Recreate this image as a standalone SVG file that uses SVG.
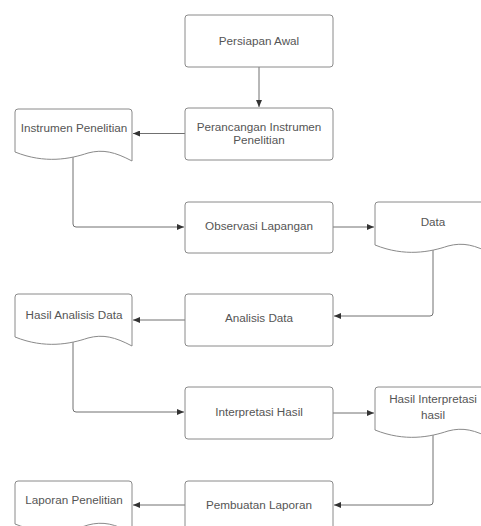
<svg xmlns="http://www.w3.org/2000/svg" width="481" height="526" viewBox="0 0 481 526">
<style>
.box{fill:#fff;stroke:#8a8a8a;stroke-width:1}
.doc{fill:#fff;stroke:#8a8a8a;stroke-width:1;stroke-linejoin:round}
.t{font-family:"Liberation Sans",Arial,sans-serif;font-size:11.7px;fill:#555;text-anchor:middle}
.c{fill:none;stroke:#707070;stroke-width:1}
</style>
<defs>
<marker id="ah" markerWidth="8" markerHeight="6" refX="7" refY="3" orient="auto" markerUnits="userSpaceOnUse">
<path d="M0,0 L7,3 L0,6 Z" fill="#333"/>
</marker>
<path id="docshape" d="M0,3 Q0,0 3,0 H114 Q117,0 117,3 V52 C100,43 88,40 73,44 C55,50 30,55 0,43 Z"/>
</defs>
<rect width="481" height="526" fill="#fff"/>

<g id="connectors">
<path class="c" d="M259,67 V107" marker-end="url(#ah)"/>
<path class="c" d="M185,133.5 H133" marker-end="url(#ah)"/>
<path class="c" d="M73,157 V224 Q73,227 76,227 H184" marker-end="url(#ah)"/>
<path class="c" d="M333,227 H374" marker-end="url(#ah)"/>
<path class="c" d="M433,250 V313 Q433,316 430,316 H334" marker-end="url(#ah)"/>
<path class="c" d="M185,320 H133" marker-end="url(#ah)"/>
<path class="c" d="M73,342 V409 Q73,412 76,412 H184" marker-end="url(#ah)"/>
<path class="c" d="M333,413 H374" marker-end="url(#ah)"/>
<path class="c" d="M433,435 V502 Q433,505 430,505 H334" marker-end="url(#ah)"/>
<path class="c" d="M185,505 H133" marker-end="url(#ah)"/>
</g>

<g id="persiapan-awal">
<rect class="box" x="185" y="15" width="148" height="52" rx="3"/>
<text class="t" x="259" y="45">Persiapan Awal</text>
</g>
<g id="perancangan-instrumen">
<rect class="box" x="185" y="108" width="148" height="52" rx="3"/>
<text class="t" x="259" y="131">Perancangan Instrumen</text>
<text class="t" x="259" y="144">Penelitian</text>
</g>
<g id="instrumen-penelitian">
<use href="#docshape" class="doc" transform="translate(15,109) scale(1,1)" style="fill:#fff;stroke:#8a8a8a"/>
<text class="t" x="74" y="132">Instrumen Penelitian</text>
</g>
<g id="observasi-lapangan">
<rect class="box" x="185" y="202" width="148" height="51" rx="3"/>
<text class="t" x="259" y="230">Observasi Lapangan</text>
</g>
<g id="data">
<use href="#docshape" transform="translate(375,202)" style="fill:#fff;stroke:#8a8a8a"/>
<text class="t" x="433" y="226">Data</text>
</g>
<g id="analisis-data">
<rect class="box" x="185" y="294" width="148" height="52" rx="3"/>
<text class="t" x="259" y="322">Analisis Data</text>
</g>
<g id="hasil-analisis-data">
<use href="#docshape" transform="translate(15,294)" style="fill:#fff;stroke:#8a8a8a"/>
<text class="t" x="74" y="319">Hasil Analisis Data</text>
</g>
<g id="interpretasi-hasil">
<rect class="box" x="185" y="387" width="148" height="52" rx="3"/>
<text class="t" x="259" y="416">Interpretasi Hasil</text>
</g>
<g id="hasil-interpretasi-hasil">
<use href="#docshape" transform="translate(375,387)" style="fill:#fff;stroke:#8a8a8a"/>
<text class="t" x="433" y="403">Hasil Interpretasi</text>
<text class="t" x="433" y="419">hasil</text>
</g>
<g id="pembuatan-laporan">
<rect class="box" x="185" y="481" width="148" height="52" rx="3"/>
<text class="t" x="259" y="509">Pembuatan Laporan</text>
</g>
<g id="laporan-penelitian">
<use href="#docshape" transform="translate(15,481)" style="fill:#fff;stroke:#8a8a8a"/>
<text class="t" x="74" y="504">Laporan Penelitian</text>
</g>
</svg>
